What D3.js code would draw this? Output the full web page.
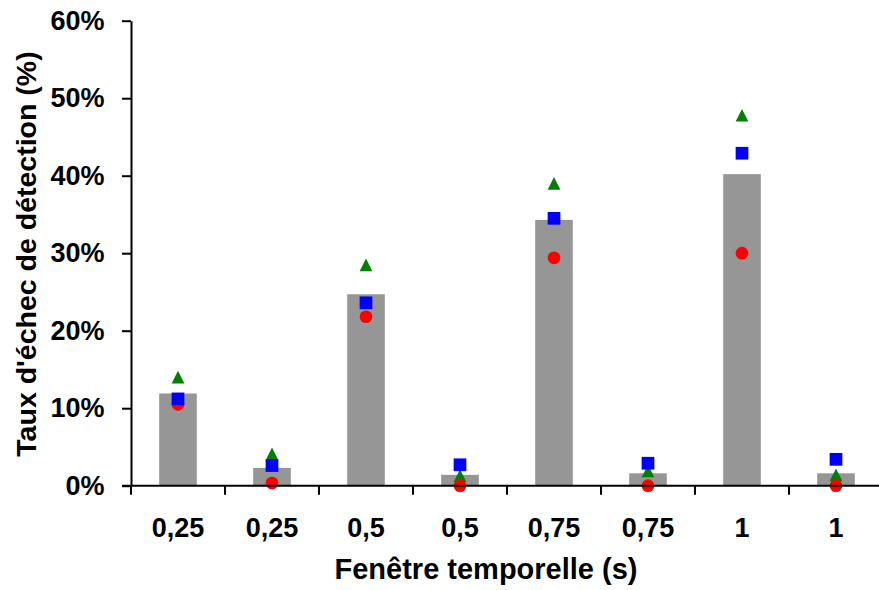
<!DOCTYPE html>
<html>
<head>
<meta charset="utf-8">
<script src="https://cdn.jsdelivr.net/npm/d3@7"></script>
<style>
  html, body { margin: 0; padding: 0; background: #ffffff; }
  svg { display: block; }
  text { font-family: "Liberation Sans", Arial, sans-serif; font-weight: bold; fill: #000; }
</style>
</head>
<body>
<svg id="chart" width="879" height="590"></svg>
<script>
// ---- Data ----
const categories = ["0,25", "0,25", "0,5", "0,5", "0,75", "0,75", "1", "1"];
const barValues      = [0.119, 0.023, 0.247, 0.014, 0.343, 0.016, 0.402, 0.016];
const triangleValues = [0.140, 0.041, 0.285, 0.013, 0.390, 0.019, 0.478, 0.014];
const squareValues   = [0.112, 0.026, 0.236, 0.027, 0.345, 0.029, 0.429, 0.034];
const circleValues   = [0.105, 0.0035, 0.218, 0.0, 0.294, 0.0, 0.300, 0.0];
const yTicks = [0, 0.1, 0.2, 0.3, 0.4, 0.5, 0.6];
const xTitle = "Fenêtre temporelle (s)";
const yTitle = "Taux d'échec de détection (%)";

// ---- Layout ----
const svg = d3.select("#chart");
const plotLeft = 131, plotTop = 20.7, plotBottom = 485.7;
const keys = categories.map((c, i) => i);

const x = d3.scaleBand().domain(keys).range([plotLeft, plotLeft + 94 * 8]).paddingInner(0).paddingOuter(0);
const y = d3.scaleLinear().domain([0, 0.6]).range([plotBottom, plotTop]);

// Bars
svg.append("g").selectAll("rect")
  .data(barValues)
  .join("rect")
  .attr("x", (d, i) => x(i) + x.bandwidth() * 0.3)
  .attr("width", x.bandwidth() * 0.4)
  .attr("y", d => y(d))
  .attr("height", d => y(0) - y(d))
  .attr("fill", "#969696");

const mSize = 12.7;
const cx = i => x(i) + x.bandwidth() / 2;

// Triangles
svg.append("g").selectAll("path")
  .data(triangleValues)
  .join("path")
  .attr("d", (d, i) => {
    const X = cx(i), Y = y(d), h = mSize / 2;
    return `M${X},${Y - h}L${X + h},${Y + h}L${X - h},${Y + h}Z`;
  })
  .attr("fill", "#008000");

// Circles
svg.append("g").selectAll("circle")
  .data(circleValues)
  .join("circle")
  .attr("cx", (d, i) => cx(i))
  .attr("cy", d => y(d))
  .attr("r", mSize / 2)
  .attr("fill", "#ff0000");

// Squares
svg.append("g").selectAll("rect")
  .data(squareValues)
  .join("rect")
  .attr("x", (d, i) => cx(i) - mSize / 2)
  .attr("y", d => y(d) - mSize / 2)
  .attr("width", mSize)
  .attr("height", mSize)
  .attr("fill", "#0000ff");

// Y axis
const yAxis = svg.append("g")
  .attr("transform", `translate(${plotLeft},0)`)
  .call(d3.axisLeft(y).tickValues(yTicks).tickFormat(d3.format(".0%")).tickSize(9).tickPadding(17.5).tickSizeOuter(0));
yAxis.select(".domain").attr("stroke", "#000").attr("stroke-width", 2);
yAxis.selectAll(".tick line").attr("stroke", "#000").attr("stroke-width", 2);
yAxis.selectAll(".tick text").style("font-size", "27px").style("font-family", "'Liberation Sans', Arial, sans-serif").style("font-weight", "bold");

// X axis (labels)
const xAxis = svg.append("g")
  .attr("transform", `translate(0,${plotBottom})`)
  .call(d3.axisBottom(x).tickFormat(i => categories[i]).tickSize(0).tickPadding(32));
xAxis.select(".domain").remove();
xAxis.selectAll(".tick text").style("font-size", "27px").style("font-family", "'Liberation Sans', Arial, sans-serif").style("font-weight", "bold");

// X axis line and boundary ticks
svg.append("line")
  .attr("x1", plotLeft - 9).attr("x2", 879)
  .attr("y1", plotBottom).attr("y2", plotBottom)
  .attr("stroke", "#000").attr("stroke-width", 2);
svg.append("g").selectAll("line")
  .data(keys)
  .join("line")
  .attr("x1", i => x(i)).attr("x2", i => x(i))
  .attr("y1", plotBottom).attr("y2", plotBottom + 9)
  .attr("stroke", "#000").attr("stroke-width", 2);

// Titles
svg.append("text")
  .attr("x", 486).attr("y", 579)
  .attr("text-anchor", "middle")
  .style("font-size", "29px")
  .text(xTitle);

svg.append("text")
  .attr("transform", "translate(36,254) rotate(-90)")
  .attr("text-anchor", "middle")
  .style("font-size", "28.5px")
  .text(yTitle);
</script>
</body>
</html>
